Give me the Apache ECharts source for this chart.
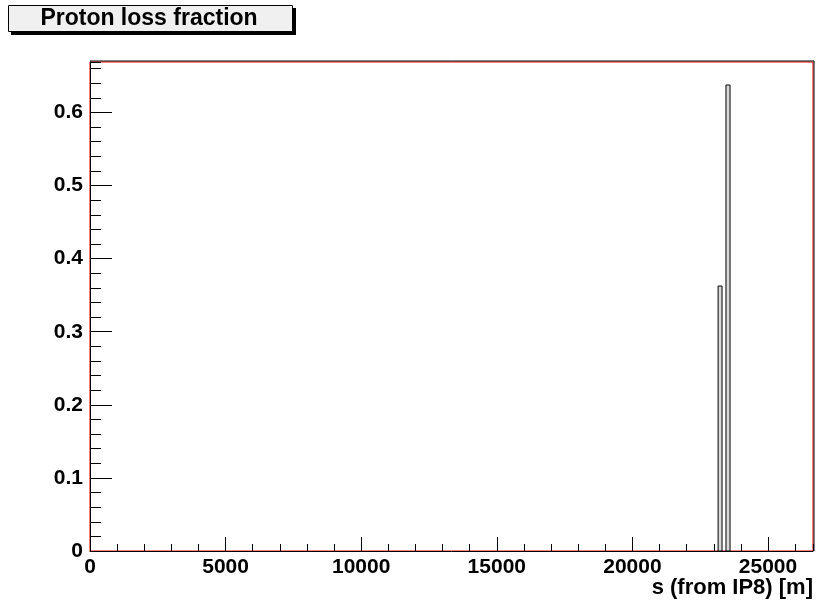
<!DOCTYPE html>
<html>
<head>
<meta charset="utf-8">
<script src="https://cdn.jsdelivr.net/npm/echarts@6/dist/echarts.min.js"></script>
<style>
  html, body { margin: 0; padding: 0; background: #fff; }
  #chart { width: 816px; height: 606px; }
</style>
</head>
<body>
<div id="chart"></div>
<script>
// Histogram of proton losses along the ring, s measured from IP8 (metres).
const titleText = 'Proton loss fraction';
const xTitle = 's (from IP8) [m]';
const ringLength = 26659;          // x-axis range upper edge [m]
const yMax = 0.669;                // y-axis range upper edge
// Non-empty bins: low edge, high edge, loss fraction
const binLow  = [23160, 23450];
const binHigh = [23305, 23600];
const lossFraction = [0.3625, 0.6375];

const FONT = '"Liberation Sans", Arial, Helvetica, sans-serif';

const bins = binLow.map((lo, i) => [lo, binHigh[i], lossFraction[i]]);

const chart = echarts.init(document.getElementById('chart'), null, { renderer: 'canvas' });

const gridLeft = 90, gridTop = 62, gridRight = 3, gridBottom = 55;

chart.setOption({
  animation: false,
  backgroundColor: '#ffffff',
  grid: {
    left: gridLeft, top: gridTop, right: gridRight, bottom: gridBottom,
    show: true, borderColor: '#ff0000', borderWidth: 1, backgroundColor: 'transparent'
  },
  xAxis: [
    {
      type: 'value', min: 0, max: ringLength, interval: 5000,
      axisLine: { show: true, lineStyle: { color: '#000', width: 1 } },
      axisTick: { show: true, inside: true, length: 14, lineStyle: { color: '#000' } },
      axisLabel: {
        show: true, showMaxLabel: false, margin: 6,
        fontFamily: FONT, fontWeight: 'bold', fontSize: 21, color: '#000',
        formatter: v => String(v)
      },
      splitLine: { show: false }
    },
    {
      type: 'value', min: 0, max: ringLength, interval: 1000, position: 'bottom',
      axisLine: { show: false },
      axisTick: { show: true, inside: true, length: 7, lineStyle: { color: '#000' } },
      axisLabel: { show: false },
      splitLine: { show: false }
    }
  ],
  yAxis: [
    {
      type: 'value', min: 0, max: yMax, interval: 0.1,
      axisLine: { show: true, lineStyle: { color: '#000', width: 1 } },
      axisTick: { show: true, inside: true, length: 22, lineStyle: { color: '#000' } },
      axisLabel: {
        show: true, showMaxLabel: false, margin: 7,
        fontFamily: FONT, fontWeight: 'bold', fontSize: 21, color: '#000',
        formatter: v => (v === 0 ? '0' : v.toFixed(1))
      },
      splitLine: { show: false }
    },
    {
      type: 'value', min: 0, max: yMax, interval: 0.02, position: 'left',
      axisLine: { show: false },
      axisTick: { show: true, inside: true, length: 11, lineStyle: { color: '#000' } },
      axisLabel: { show: false },
      splitLine: { show: false }
    }
  ],
  series: [{
    type: 'custom',
    xAxisIndex: 0, yAxisIndex: 0,
    data: bins,
    encode: { x: [0, 1], y: 2 },
    renderItem: function (params, api) {
      const p0 = api.coord([api.value(0), 0]);
      const p1 = api.coord([api.value(1), api.value(2)]);
      return {
        type: 'rect',
        shape: { x: p0[0], y: p1[1], width: p1[0] - p0[0], height: p0[1] - p1[1] },
        style: { fill: '#d9d9d9', stroke: '#000', lineWidth: 1 }
      };
    }
  }],
  graphic: [
    // outer dark frame line on top and right of the plot pad
    {
      type: 'polyline', silent: true, z: 10,
      shape: { points: [[gridLeft, gridTop - 1], [816 - gridRight + 1, gridTop - 1], [816 - gridRight + 1, 606 - gridBottom]] },
      style: { stroke: '#000', lineWidth: 1, fill: null }
    },
    // title box with drop shadow
    {
      type: 'rect', silent: true, z: 10,
      shape: { x: 11, y: 8, width: 285, height: 27 },
      style: { fill: '#000' }
    },
    {
      type: 'rect', silent: true, z: 11,
      shape: { x: 8.5, y: 5.5, width: 284, height: 26 },
      style: { fill: '#f0f0f0', stroke: '#000', lineWidth: 1 }
    },
    {
      type: 'text', silent: true, z: 12,
      style: {
        x: 149, y: 19, text: titleText, textAlign: 'center', textVerticalAlign: 'middle',
        fontFamily: FONT, fontWeight: 'bold', fontSize: 23, fill: '#000'
      }
    },
    {
      type: 'text', silent: true, z: 12,
      style: {
        x: 813, y: 588, text: xTitle, textAlign: 'right', textVerticalAlign: 'middle',
        fontFamily: FONT, fontWeight: 'bold', fontSize: 22, fill: '#000'
      }
    }
  ]
});
</script>
</body>
</html>
